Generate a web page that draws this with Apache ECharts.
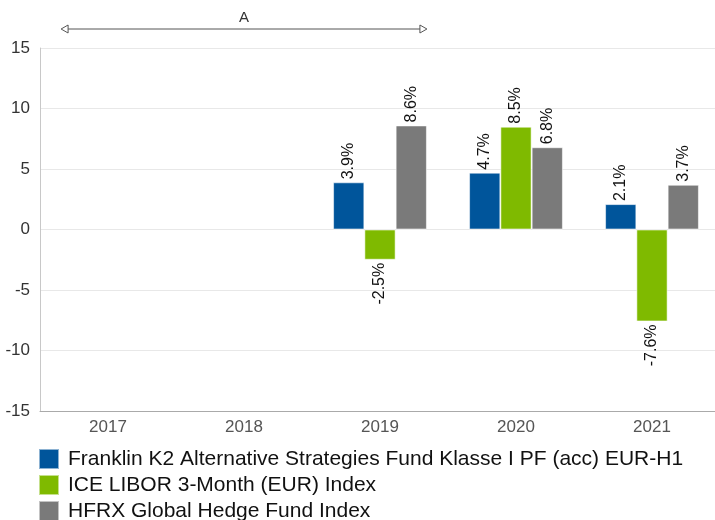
<!DOCTYPE html>
<html lang="en">
<head>
    <meta charset="UTF-8">
    <title>Jahresrendite</title>
    <script src="https://cdn.jsdelivr.net/npm/echarts@6/dist/echarts.min.js"></script>
    <style>
        html, body { margin: 0; padding: 0; background: #fff; overflow: hidden; }
        /* plot runs a few px past the right edge of the window, as in the original */
        #container { width: 720px; height: 520px; }
    </style>
</head>
<body>
<div id="container"></div>
<script>
    const years = ['2017', '2018', '2019', '2020', '2021'];
    const seriesNames = [
        'Franklin K2 Alternative Strategies Fund Klasse I PF (acc) EUR-H1',
        'ICE LIBOR 3-Month (EUR) Index',
        'HFRX Global Hedge Fund Index'
    ];
    const fundValues = [null, null, 3.9, 4.7, 2.1];
    const liborValues = [null, null, -2.5, 8.5, -7.6];
    const hfrxValues = [null, null, 8.6, 6.8, 3.7];
    const colors = ['#00559b', '#7fba00', '#7a7a7a'];
    // annotation "A" spans these categories
    const spanFrom = 0, spanTo = 2, spanLabel = 'A';

    const catGap = 0.31;

    function toItems(vals) {
        return vals.map(function (v) {
            if (v === null) return null;
            return {
                value: v,
                label: v < 0
                    ? { position: 'bottom', align: 'right' }
                    : { position: 'top', align: 'left' }
            };
        });
    }

    function barSeries(name, vals, color) {
        return {
            name: name,
            type: 'bar',
            data: toItems(vals),
            barGap: '0%',
            barCategoryGap: (catGap * 100) + '%',
            itemStyle: { color: color, borderColor: 'rgba(255,255,255,0.55)', borderWidth: 1 },
            label: {
                show: true,
                rotate: 90,
                verticalAlign: 'middle',
                distance: 3,
                fontFamily: '"Liberation Sans Narrow", "Liberation Sans", Arial',
                fontSize: 16,
                color: '#111',
                formatter: function (p) { return p.value.toFixed(1) + '%'; }
            }
        };
    }

    const dom = document.getElementById('container');
    const myChart = echarts.init(dom, null, { renderer: 'canvas' });

    const option = {
        animation: false,
        textStyle: { fontFamily: 'Liberation Sans' },
        grid: { left: 40, right: 0, top: 48, height: 363, containLabel: false },
        legend: {
            orient: 'vertical',
            left: 38,
            top: 448,
            height: 100,
            padding: 0,
            itemWidth: 20,
            itemHeight: 20,
            itemGap: 4,
            icon: 'rect',
            textStyle: { fontFamily: 'Liberation Sans', fontSize: 21, lineHeight: 20, color: '#111', padding: [0, 0, 0, 4] },
            data: seriesNames
        },
        xAxis: {
            type: 'category',
            data: years,
            axisLine: { onZero: false, lineStyle: { color: '#aaa' } },
            axisTick: { show: false },
            axisLabel: { color: '#555', fontSize: 17, margin: 8 }
        },
        yAxis: {
            type: 'value',
            min: -15,
            max: 15,
            interval: 5,
            axisLine: { show: true, lineStyle: { color: '#c8c8c8' } },
            axisTick: { show: false },
            axisLabel: { color: '#333', fontSize: 17, margin: 10 },
            splitLine: { lineStyle: { color: '#e8e8e8' } }
        },
        series: [
            barSeries(seriesNames[0], fundValues, colors[0]),
            barSeries(seriesNames[1], liborValues, colors[1]),
            barSeries(seriesNames[2], hfrxValues, colors[2])
        ]
    };
    myChart.setOption(option);

    // span annotation above the plot
    const band = myChart.getModel().getComponent('xAxis', 0).axis.getBandWidth();
    const half = band * (1 - catGap) / 2;
    const x1 = myChart.convertToPixel({ xAxisIndex: 0 }, years[spanFrom]) - half;
    const x2 = myChart.convertToPixel({ xAxisIndex: 0 }, years[spanTo]) + half;
    const ay = 29;
    const lineColor = '#555';
    myChart.setOption({
        graphic: [
            { type: 'line', shape: { x1: x1 + 6, y1: ay, x2: x2 - 6, y2: ay }, style: { stroke: lineColor, lineWidth: 1 } },
            { type: 'polygon', shape: { points: [[x1, ay], [x1 + 7, ay - 4], [x1 + 7, ay + 4]] }, style: { fill: '#fff', stroke: lineColor, lineWidth: 1 } },
            { type: 'polygon', shape: { points: [[x2, ay], [x2 - 7, ay - 4], [x2 - 7, ay + 4]] }, style: { fill: '#fff', stroke: lineColor, lineWidth: 1 } },
            { type: 'text', x: (x1 + x2) / 2, y: ay - 11, style: { text: spanLabel, fill: '#333', font: '15px Liberation Sans', align: 'center', verticalAlign: 'middle' } }
        ]
    });
    window.addEventListener('resize', myChart.resize);
</script>
</body>
</html>
